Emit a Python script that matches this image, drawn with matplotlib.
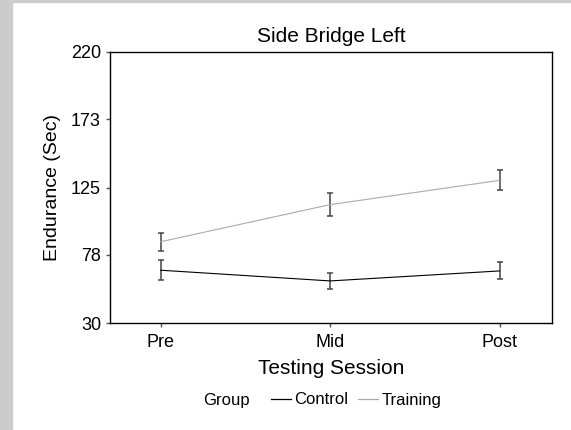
import matplotlib.pyplot as plt
from matplotlib.lines import Line2D
import matplotlib.patches as patches

plt.rcParams['font.family'] = ['Liberation Sans', 'DejaVu Sans']

sessions = ['Pre', 'Mid', 'Post']
control_mean = [67, 59.5, 66.5]
control_err = [7, 5.5, 6]
training_mean = [87, 113, 130]
training_err = [6.3, 8, 7]
y_ticks = [30, 78, 125, 173, 220]

fig = plt.figure(figsize=(5.71, 4.30), dpi=100)
# gray frame strips on the left and top
fig.patches.append(patches.Rectangle((0, 0), 12 / 571, 1, transform=fig.transFigure,
                                     color='#cccccc', zorder=0))
fig.patches.append(patches.Rectangle((0, 1 - 2 / 430), 1, 2 / 430, transform=fig.transFigure,
                                     color='#cccccc', zorder=0))

ax = fig.add_axes([110 / 571, 1 - 323 / 430, 442 / 571, 271 / 430])
x = [1, 2, 3]

ax.errorbar(x, control_mean, yerr=control_err, color='black', lw=0.8,
            ecolor='#444444', elinewidth=1.1, capsize=2, capthick=1.1)
ax.errorbar(x, training_mean, yerr=training_err, color='#aaaaaa', lw=0.8,
            ecolor='#444444', elinewidth=1.1, capsize=2, capthick=1.1)

ax.set_xlim(0.7, 3.31)
ax.set_ylim(30, 220)
ax.set_xticks(x)
ax.set_xticklabels(sessions, fontsize=13)
ax.set_yticks(y_ticks)
ax.set_yticklabels([str(v) for v in y_ticks], fontsize=13)
ax.tick_params(direction='out', length=3, width=1, color='#555555')
ax.tick_params(axis='x', pad=5)
for s in ax.spines.values():
    s.set_linewidth(1)

ax.set_title('Side Bridge Left', fontsize=15, pad=7)
ax.set_ylabel('Endurance (Sec)', fontsize=14, labelpad=7)
ax.set_xlabel('Testing Session', fontsize=15, labelpad=6)

fig.text(203 / 571, 1 - 400 / 430, 'Group', fontsize=12, va='center', ha='left')
handles = [Line2D([], [], color='black', lw=0.9),
           Line2D([], [], color='#aaaaaa', lw=0.9)]
fig.legend(handles, ['Control', 'Training'], ncol=2, frameon=False, fontsize=12,
           loc='center left', bbox_to_anchor=(271 / 571, 1 - 400 / 430),
           handlelength=1.2, handletextpad=0.2, columnspacing=0.6, borderaxespad=0,
           borderpad=0)

fig.savefig('out.png', dpi=100)
